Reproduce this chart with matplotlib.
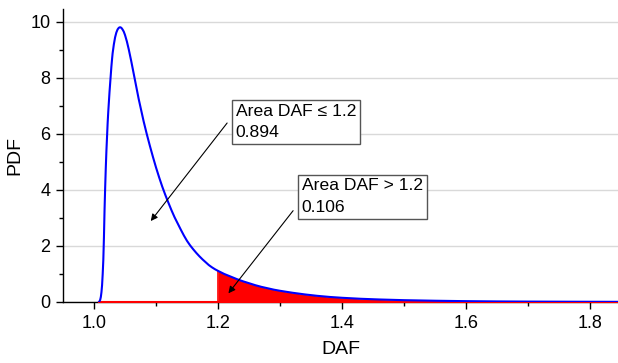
import matplotlib
matplotlib.use("Agg")
import matplotlib.pyplot as plt
import numpy as np

plt.rcParams['font.family'] = ['Liberation Sans', 'DejaVu Sans']

# PDF curve
daf = [1.008, 1.009, 1.010, 1.011, 1.012, 1.013, 1.014, 1.015, 1.016, 1.017,
       1.018, 1.019, 1.020, 1.021, 1.022, 1.023, 1.024, 1.025, 1.026, 1.027,
       1.028, 1.029, 1.030, 1.032, 1.034, 1.036, 1.038, 1.040, 1.042, 1.044,
       1.046, 1.048, 1.050, 1.053, 1.056, 1.060, 1.064, 1.068, 1.072, 1.076,
       1.080, 1.085, 1.090, 1.095, 1.100, 1.105, 1.110, 1.115, 1.120, 1.125,
       1.130, 1.135, 1.140, 1.145, 1.150, 1.155, 1.160, 1.165, 1.170, 1.175,
       1.180, 1.185, 1.190, 1.195, 1.200, 1.210, 1.220, 1.230, 1.240, 1.250,
       1.260, 1.270, 1.280, 1.290, 1.300, 1.320, 1.340, 1.360, 1.380, 1.400,
       1.430, 1.460, 1.500, 1.550, 1.600, 1.650, 1.700, 1.770, 1.850]
pdf = [0.0, 0.03, 0.08, 0.18, 0.35, 0.6, 1.0, 1.5, 2.3, 3.3,
       4.1, 4.8, 5.4, 5.9, 6.4, 6.8, 7.15, 7.5, 7.8, 8.1,
       8.4, 8.65, 8.88, 9.2, 9.45, 9.62, 9.73, 9.79, 9.81, 9.79,
       9.73, 9.65, 9.53, 9.3, 9.02, 8.6, 8.15, 7.7, 7.25, 6.85,
       6.45, 6.0, 5.58, 5.18, 4.8, 4.45, 4.12, 3.82, 3.54, 3.27,
       3.02, 2.8, 2.58, 2.37, 2.18, 2.02, 1.88, 1.75, 1.63, 1.52,
       1.42, 1.32, 1.24, 1.17, 1.11, 1.0, 0.91, 0.82, 0.74, 0.67,
       0.6, 0.54, 0.49, 0.44, 0.4, 0.33, 0.27, 0.22, 0.18, 0.15,
       0.115, 0.09, 0.065, 0.045, 0.03, 0.02, 0.014, 0.009, 0.005]

threshold = 1.2
area_le = 0.894
area_gt = 0.106

x_ticks = [1.0, 1.2, 1.4, 1.6, 1.8]
y_ticks = [0, 2, 4, 6, 8, 10]

daf_a = np.array(daf)
pdf_a = np.array(pdf)

fig = plt.figure(figsize=(6.18, 3.63), dpi=100)
ax = fig.add_axes([63/618, 61/363, 555/618, 293/363])

ax.set_xlim(0.95, 1.8448)
ax.set_ylim(0, 10.46)

ax.yaxis.grid(True, color='#d9d9d9', lw=1.0, zorder=0)
ax.set_axisbelow(True)

# red tail fill
m = daf_a >= threshold
ax.fill_between(daf_a[m], 0, pdf_a[m], color='#ff0000', lw=0, zorder=2)
ax.plot([threshold, threshold], [0, pdf_a[m][0]], color='#ff0000', lw=1.2, zorder=2)
# red baseline
ax.plot([daf_a[0], daf_a[-1]], [0, 0], color='#ff0000', lw=1.5, zorder=3, clip_on=False)
# blue pdf
ax.plot(daf_a, pdf_a, color='#0000ff', lw=1.5, zorder=4)

ax.set_xticks(x_ticks)
ax.set_xticklabels([f"{v:.1f}" for v in x_ticks])
ax.set_xticks([1.1, 1.3, 1.5, 1.7], minor=True)
ax.set_yticks(y_ticks)
ax.set_yticks([1, 3, 5, 7, 9], minor=True)
ax.tick_params(axis='both', which='major', direction='out', length=5, width=1, labelsize=13, pad=4)
ax.tick_params(axis='both', which='minor', direction='out', length=3, width=1)

for s in ['top', 'right']:
    ax.spines[s].set_visible(False)
for s in ['left', 'bottom']:
    ax.spines[s].set_linewidth(1.0)
    ax.spines[s].set_color('black')

ax.set_xlabel('DAF', fontsize=14, labelpad=7)
ax.set_ylabel('PDF', fontsize=14, labelpad=5)

bbox = dict(boxstyle='square,pad=0.22', fc='white', ec='#555555', lw=1.0)
ax.text(1.2285, 7.08, f"Area DAF \u2264 {threshold}\n{area_le:.3f}", fontsize=12.6,
        va='top', ha='left', bbox=bbox, zorder=6, linespacing=1.55)
ax.text(1.3347, 4.41, f"Area DAF > {threshold}\n{area_gt:.3f}", fontsize=12.6,
        va='top', ha='left', bbox=bbox, zorder=6, linespacing=1.55)

ap = dict(arrowstyle='-|>', color='black', lw=0.8, mutation_scale=10, shrinkA=0, shrinkB=0)
ax.annotate('', xy=(1.0915, 2.89), xytext=(1.2146, 6.39), arrowprops=ap, zorder=5)
ax.annotate('', xy=(1.2167, 0.31), xytext=(1.321, 3.26), arrowprops=ap, zorder=5)

fig.savefig('out.png', dpi=100)
